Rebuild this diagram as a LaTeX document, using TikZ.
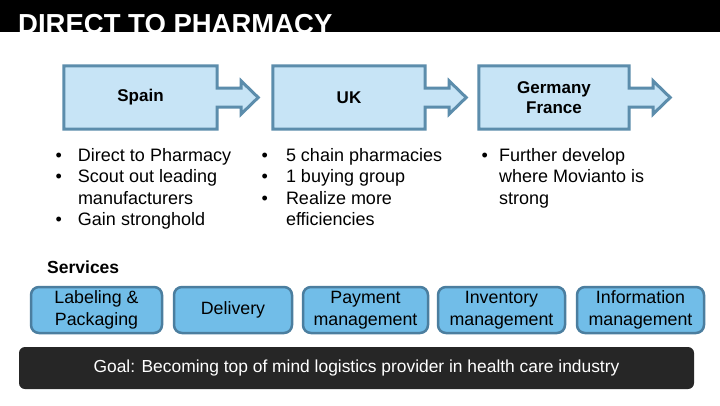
\documentclass[tikz,border=0pt]{standalone}
\usepackage{fontspec}
\setmainfont{Liberation Sans}
\usepackage{tikz}
\usetikzlibrary{positioning,calc,backgrounds}
\definecolor{cntfill}{HTML}{C7E4F6}
\definecolor{cntline}{HTML}{5C8DAC}
\definecolor{srvfill}{HTML}{71BDE8}
\definecolor{srvline}{HTML}{4B7E9F}
\definecolor{goalgray}{HTML}{262626}
\tikzset{
  cnt/.style={minimum width=#1, minimum height=63pt, inner sep=0pt, align=center,
              font=\fontsize{17}{20}\selectfont\bfseries},
  cntarrow/.style={draw=cntline, fill=cntfill, line width=3pt, line join=miter},
  srv/.style={rounded corners=8pt, draw=srvline, fill=srvfill, line width=2.5pt,
              minimum width=#1, minimum height=46pt, inner sep=0pt, align=center,
              font=\fontsize{17.8}{22}\selectfont},
  blist/.style={anchor=north west, inner sep=0pt, font=\fontsize{18}{21.5}\selectfont},
}
% box with the block arrow on its right side
\newcommand\boxarrow[1]{%
  \draw[cntarrow] (#1.north east) -- ($(#1.east)+(0,-9.5)$) -- ++(24,0) -- ++(0,-7)
    -- ($(#1.east)+(41,0)$) -- ($(#1.east)+(24,16.5)$) -- ++(0,-7)
    -- ($(#1.east)+(0,9.5)$) -- (#1.south east) -- (#1.south west)
    -- (#1.north west) -- cycle;}

\begin{document}
\begin{tikzpicture}[x=1pt, y=-1pt]
  \useasboundingbox (0,0) rectangle (720,405);
  % title bar
  \fill[black] (0,0) rectangle (720,31.5);
  \begin{scope}
    \clip (0,0) rectangle (720,31.5);
    \node[anchor=base west, inner sep=0pt, text=white,
          font=\fontsize{27.5}{30}\selectfont\bfseries] (title) at (18,33.5) {DIRECT TO PHARMACY};
  \end{scope}

  % countries
  \node[cnt=153pt] (spain) at (140.5,97.5) {Spain};
  \node[cnt=152pt] (uk) at (349,97.5) {UK};
  \node[cnt=150pt] (ger) at (554,97.5) {Germany\\France};
  \begin{scope}[on background layer]
    \fill[white] (0,31.5) rectangle (720,405);
    \boxarrow{spain}
    \boxarrow{uk}
    \boxarrow{ger}
  \end{scope}

  % bullet lists
  \node[blist] (spainlist) at (55.5,146) {\begin{tabular}{@{}l@{\hspace{16pt}}l@{}}
    \textbullet & Direct to Pharmacy\\
    \textbullet & Scout out leading\\
                & manufacturers\\
    \textbullet & Gain stronghold
  \end{tabular}};
  \node[blist] (uklist) at (261.5,146) {\begin{tabular}{@{}l@{\hspace{18pt}}l@{}}
    \textbullet & 5 chain pharmacies\\
    \textbullet & 1 buying group\\
    \textbullet & Realize more\\
                & efficiencies
  \end{tabular}};
  \node[blist] (gerlist) at (481.5,146) {\begin{tabular}{@{}l@{\hspace{11pt}}l@{}}
    \textbullet & Further develop\\
                & where Movianto is\\
                & strong
  \end{tabular}};

  % services
  \node[anchor=base west, inner sep=0pt, font=\fontsize{17.5}{20}\selectfont\bfseries]
    (services) at (47,273) {Services};
  \node[srv=131pt] (label) at (96.5,310) {Labeling \&\\Packaging};
  \node[srv=118pt] (deliv) at (233,310) {Delivery};
  \node[srv=125pt] (pay) at (365.5,310) {Payment\\management};
  \node[srv=127pt] (inv) at (501.5,310) {Inventory\\management};
  \node[srv=127pt] (info) at (640.5,310) {Information\\management};

  % goal
  \node[rounded corners=6pt, fill=goalgray, text=white, minimum width=675pt,
        minimum height=42pt, inner sep=0pt, font=\fontsize{17.4}{20}\selectfont]
    (goal) at (356.5,368) {Goal: Becoming top of mind logistics provider in health care industry};
\end{tikzpicture}
\end{document}
